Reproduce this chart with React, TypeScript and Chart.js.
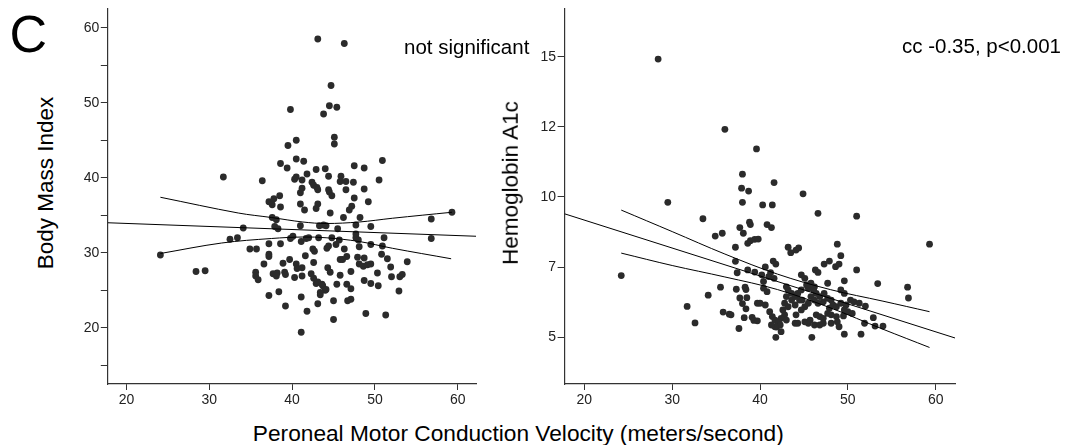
import React, { useEffect, useRef } from 'react';
import { Chart, registerables } from 'chart.js';

Chart.register(...registerables);

const FONT = "'Liberation Sans', Arial, Helvetica, sans-serif";
const INK = '#2b2b2b';
const AXIS = '#333';

// Shared x axis: peroneal motor conduction velocity (m/s)
const VELOCITY_RANGE = [17.75, 62.2];
const VELOCITY_TICKS = [20, 30, 40, 50, 60];

// Left panel: [velocity, body mass index]
const bmiPoints: [number, number][] = [
  [43.1, 58.5], [46.3, 57.9], [44.7, 52.3],
  [39.8, 49.1], [39.5, 44.3], [38.6, 41.9], [39.4, 41.3], [31.7, 40.1], [36.4, 39.6],
  [37.2, 36.8], [37.8, 37.2], [37.6, 36.4], [38.5, 37.6], [38.6, 36.1], [37.6, 34.7],
  [38.1, 34.4], [37.9, 33.5], [38.3, 33.2], [34.1, 33.3], [32.5, 31.8], [33.4, 32.0],
  [40.1, 32.2], [39.8, 31.9], [34.9, 30.5], [35.7, 30.5], [37.2, 31.2], [38.6, 31.2],
  [37.2, 29.8], [37.2, 29.5], [24.1, 29.7], [39.7, 29.1],
  [40.5, 45.0], [40.5, 42.5], [41.4, 42.2], [40.3, 39.8], [40.5, 40.1], [41.2, 39.7],
  [41.0, 38.0], [41.2, 38.6], [41.0, 36.5], [41.0, 33.6], [41.1, 31.5],
  [44.5, 49.6], [45.4, 49.4], [43.8, 48.5], [45.1, 45.4], [45.1, 44.5], [50.9, 42.3],
  [47.5, 41.6], [48.7, 41.3], [42.9, 41.1], [44.0, 41.2], [41.8, 40.5], [44.4, 40.2],
  [45.9, 40.2], [50.5, 39.7], [45.8, 39.5], [46.5, 39.5], [47.4, 39.4], [42.4, 39.4],
  [42.6, 39.0], [43.0, 38.7], [43.1, 38.4], [44.4, 38.4], [44.5, 38.1], [44.8, 37.6],
  [46.5, 38.4], [48.7, 38.5], [47.5, 37.3], [49.2, 36.8], [43.1, 36.5], [42.9, 35.9],
  [41.5, 35.7], [44.6, 35.3], [47.2, 36.2], [46.9, 35.7], [46.2, 34.7], [48.2, 34.7],
  [43.3, 33.6], [43.8, 33.7], [44.1, 33.6], [45.5, 33.2], [47.7, 33.7], [49.5, 33.5],
  [56.8, 34.5], [59.3, 35.4], [56.8, 31.9], [51.1, 32.0], [41.7, 31.9], [42.0, 32.0],
  [43.2, 32.0], [44.8, 32.0], [45.7, 31.7], [47.7, 32.5], [47.7, 32.0], [48.0, 31.7],
  [45.3, 31.1], [46.3, 30.5], [44.2, 30.6], [44.4, 30.9], [48.1, 30.8], [49.5, 31.1],
  [50.9, 30.9], [42.5, 30.5], [42.7, 30.2], [41.6, 29.6], [46.6, 29.5], [46.1, 29.1],
  [45.8, 29.1], [47.9, 29.4], [48.7, 29.3], [50.8, 29.8], [51.5, 29.2],
  [28.4, 27.5], [29.5, 27.6], [36.6, 28.5], [35.6, 27.4], [35.6, 26.9], [35.9, 26.4],
  [37.7, 27.2], [38.2, 27.3], [38.1, 26.9], [39.1, 27.4], [39.2, 27.1], [38.9, 28.6],
  [40.5, 28.5], [40.6, 27.9], [41.2, 28.0], [40.3, 26.7], [41.2, 26.9], [42.6, 28.7],
  [42.3, 27.2], [42.6, 26.6], [42.9, 25.9], [43.1, 26.1], [43.6, 25.8], [43.7, 25.6],
  [44.0, 25.0], [44.1, 25.1], [43.4, 24.4], [43.4, 24.7], [44.3, 28.0], [44.6, 27.4],
  [45.4, 25.8], [45.8, 27.0], [46.6, 25.8], [47.1, 25.2], [47.1, 27.5], [48.1, 28.5],
  [48.6, 28.2], [49.1, 28.4], [49.5, 28.5], [48.7, 26.3], [49.5, 25.9], [50.4, 25.6],
  [50.3, 27.3], [51.9, 28.1], [52.0, 26.8], [53.0, 26.8], [53.3, 27.1], [53.9, 28.8],
  [52.9, 24.9], [37.2, 24.3], [38.4, 24.8], [39.2, 22.9], [41.1, 24.1], [41.8, 22.2],
  [43.1, 23.2], [45.0, 23.6], [46.7, 23.6], [47.1, 23.8], [45.0, 21.1], [48.9, 21.9],
  [51.3, 21.7], [41.1, 19.4],
];

// Left panel regression line and its confidence band
const bmiFit: [number, number][] = [[17.75, 34.0], [62.2, 32.2]];
const bmiUpper: [number, number][] = [
  [24.1, 37.4], [33.5, 35.3], [37.5, 34.7], [41.3, 34.1], [44.1, 33.9], [48.1, 34.1], [52.1, 34.6], [59.3, 35.4],
];
const bmiLower: [number, number][] = [
  [24.1, 29.9], [31.5, 31.3], [37.5, 31.9], [41.3, 32.1], [44.1, 32.0], [48.1, 31.5], [52.1, 30.6], [59.2, 29.2],
];
const BMI_RANGE = [12.5, 62.5];
const BMI_TICKS = [15, 20, 25, 30, 35, 40, 45, 50, 55, 60];
const BMI_LABELLED = [20, 30, 40, 50, 60];

// Right panel: [velocity, hemoglobin A1c %]
const a1cPoints: [number, number][] = [
  [28.4, 14.9], [36.0, 11.93], [39.6, 11.37], [38.0, 10.65], [41.6, 10.41], [37.9, 10.25],
  [38.7, 10.17], [44.9, 10.09], [29.5, 9.77], [38.0, 9.77], [40.3, 9.66], [41.4, 9.66],
  [46.6, 9.3], [51.0, 9.18], [33.5, 9.07],
  [37.7, 8.69], [38.8, 8.92], [38.9, 8.82], [38.1, 8.45], [34.9, 8.33], [35.7, 8.45],
  [38.6, 8.02], [38.9, 8.13], [39.4, 8.19], [39.8, 8.2], [37.2, 7.85], [40.8, 8.82],
  [41.3, 8.69], [43.2, 7.85], [43.5, 7.62], [44.1, 7.73], [44.4, 7.82], [48.8, 7.98],
  [59.3, 7.98], [49.2, 7.49],
  [37.2, 7.25], [37.4, 6.84], [38.6, 6.92], [39.4, 6.86], [24.2, 6.76],
  [40.6, 7.01], [41.2, 6.84], [41.5, 7.26], [41.8, 7.13], [47.3, 7.13], [47.9, 7.26],
  [48.6, 7.02], [49.0, 7.13], [46.3, 6.92], [46.6, 6.85], [51.0, 6.92], [49.6, 6.61],
  [53.4, 6.53], [56.8, 6.43], [56.9, 6.12], [47.7, 6.54],
  [35.5, 6.43], [37.3, 6.37], [38.3, 6.43], [38.4, 6.36], [34.1, 6.2], [37.7, 6.12],
  [38.5, 6.13], [38.0, 5.96], [38.4, 5.81], [31.7, 5.88], [35.8, 5.72], [36.5, 5.66],
  [36.7, 5.64], [38.2, 5.56], [39.1, 5.57], [39.3, 5.48], [39.7, 5.47], [32.6, 5.41],
  [37.6, 5.25], [39.7, 5.97],
  [40.2, 6.78], [41.0, 6.73], [41.6, 6.68], [40.4, 6.59], [43.0, 6.44], [44.7, 6.78],
  [45.1, 6.68], [45.8, 6.54], [46.2, 6.44],
  [40.0, 5.97], [40.6, 5.92], [41.1, 5.73], [41.4, 5.59], [41.7, 5.49], [42.1, 5.4],
  [41.9, 5.29], [40.4, 6.4], [40.8, 6.3],
  [41.8, 5.0], [42.4, 5.16], [45.9, 5.0], [49.6, 5.09], [51.5, 5.09], [52.9, 5.56],
  [54.0, 5.32], [53.1, 5.32], [51.9, 5.4],
  [43.2, 6.35], [43.6, 6.25], [43.0, 6.16], [42.8, 5.97], [43.2, 5.87], [43.6, 6.06],
  [44.0, 6.16], [44.3, 6.25], [44.7, 6.35], [44.5, 6.06], [44.0, 5.92], [42.6, 5.78],
  [42.8, 5.64], [42.4, 5.54], [43.0, 5.49], [42.1, 5.44], [42.3, 5.35], [44.0, 5.4],
  [45.3, 6.49], [45.5, 6.4], [46.1, 6.35], [46.4, 6.25], [46.8, 6.16], [47.2, 6.01],
  [46.6, 5.97], [47.3, 6.25], [47.7, 6.11], [48.1, 6.06], [48.3, 5.92], [48.7, 5.87],
  [47.9, 5.83], [49.2, 5.97], [49.8, 5.92], [49.6, 5.78], [47.7, 5.68], [48.1, 5.64],
  [48.7, 5.59], [46.4, 5.64], [46.8, 5.59], [47.2, 5.54], [45.5, 5.4], [46.2, 5.35],
  [46.8, 5.35], [47.2, 5.4], [48.1, 5.4], [48.8, 5.44], [49.0, 5.3], [50.3, 6.06],
  [50.7, 6.01], [51.3, 5.97], [52.0, 5.89], [50.0, 5.73], [50.5, 5.68], [49.5, 5.61],
  [49.2, 6.35], [49.6, 6.25], [41.7, 5.3], [41.3, 5.35],
  [44.8, 6.06], [45.5, 5.97], [45.1, 5.87], [45.8, 6.16], [46.2, 6.06], [44.3, 5.4],
  [45.1, 5.44], [45.7, 5.49], [44.1, 5.64], [44.7, 5.78],
];

// Right panel regression line and its confidence band
const a1cFit: [number, number][] = [[17.75, 9.28], [62.2, 4.98]];
const a1cUpper: [number, number][] = [
  [24.2, 9.44], [30, 8.52], [36, 7.56], [42, 6.8], [48, 6.36], [54, 6.03], [59.3, 5.73],
];
const a1cLower: [number, number][] = [
  [24.2, 7.6], [30, 7.07], [36, 6.72], [42, 6.36], [48, 5.84], [54, 5.23], [59.3, 4.71],
];

// The A1c axis places these labels at equal steps
const A1C_LADDER = [5, 7, 10, 12, 15];
const A1C_AXIS_RANGE = [-0.666, 4.68];

function a1cToAxis(v: number): number {
  const t = A1C_LADDER;
  let i = 0;
  while (i < t.length - 2 && v > t[i + 1]) i++;
  return i + (v - t[i]) / (t[i + 1] - t[i]);
}

const toXY = (pts: [number, number][], f: (v: number) => number = (v) => v) =>
  pts.map(([x, y]) => ({ x, y: f(y) }));

function lineSet(pts: { x: number; y: number }[], tension: number) {
  return {
    data: pts,
    showLine: true,
    borderColor: '#000',
    borderWidth: 1,
    pointRadius: 0,
    fill: false,
    tension,
    order: 0,
  };
}

function pointSet(pts: { x: number; y: number }[]) {
  return {
    data: pts,
    showLine: false,
    backgroundColor: INK,
    borderWidth: 0,
    pointRadius: 3.4,
    order: 1,
  };
}

type YAxis = {
  min: number;
  max: number;
  ticks: number[];
  label: (v: number) => string;
  width: number;
};

function makeConfig(datasets: any[], y: YAxis) {
  const tickFont = { family: FONT, size: 14 };
  return {
    type: 'scatter' as const,
    data: { datasets },
    options: {
      animation: false,
      responsive: false,
      events: [],
      layout: { padding: { top: 9, left: 0, right: 0, bottom: 0 } },
      plugins: { legend: { display: false }, tooltip: { enabled: false } },
      scales: {
        x: {
          type: 'linear',
          min: VELOCITY_RANGE[0],
          max: VELOCITY_RANGE[1],
          afterBuildTicks: (s: any) => {
            s.ticks = VELOCITY_TICKS.map((value) => ({ value }));
          },
          ticks: {
            font: tickFont,
            color: '#222',
            padding: 2,
            maxRotation: 0,
            autoSkip: false,
            callback: (v: number) => String(v),
          },
          grid: { drawOnChartArea: false, drawTicks: true, tickLength: 6, color: AXIS, lineWidth: 1 },
          border: { display: true, color: AXIS, width: 1.2 },
          afterFit: (s: any) => {
            s.height = 36;
            s.paddingLeft = 0;
            s.paddingRight = 0;
          },
        },
        y: {
          type: 'linear',
          min: y.min,
          max: y.max,
          afterBuildTicks: (s: any) => {
            s.ticks = y.ticks.map((value) => ({ value }));
          },
          ticks: {
            font: tickFont,
            color: '#222',
            padding: 1.5,
            autoSkip: false,
            callback: (v: number) => y.label(v),
          },
          grid: { drawOnChartArea: false, drawTicks: true, tickLength: 7, color: AXIS, lineWidth: 1 },
          border: { display: true, color: AXIS, width: 1.2 },
          afterFit: (s: any) => {
            s.width = y.width;
            s.paddingTop = 0;
            s.paddingBottom = 0;
          },
        },
      },
    },
  };
}

function useChart(ref: React.RefObject<HTMLCanvasElement>, build: () => any) {
  useEffect(() => {
    if (!ref.current) return;
    const chart = new Chart(ref.current, build());
    return () => chart.destroy();
  }, []);
}

function Text({ children, style }: { children: React.ReactNode; style: React.CSSProperties }) {
  return (
    <div
      style={{
        position: 'absolute',
        whiteSpace: 'nowrap',
        lineHeight: 1,
        fontFamily: FONT,
        color: '#000',
        ...style,
      }}
    >
      {children}
    </div>
  );
}

export default function App() {
  const leftRef = useRef<HTMLCanvasElement>(null);
  const rightRef = useRef<HTMLCanvasElement>(null);

  useChart(leftRef, () =>
    makeConfig(
      [
        lineSet(toXY(bmiFit), 0),
        lineSet(toXY(bmiUpper), 0.35),
        lineSet(toXY(bmiLower), 0.35),
        pointSet(toXY(bmiPoints)),
      ],
      {
        min: BMI_RANGE[0],
        max: BMI_RANGE[1],
        ticks: BMI_TICKS,
        label: (v) => (BMI_LABELLED.includes(v) ? String(v) : ''),
        width: 47.8,
      },
    ),
  );

  useChart(rightRef, () =>
    makeConfig(
      [
        lineSet(toXY(a1cFit, a1cToAxis), 0),
        lineSet(toXY(a1cUpper, a1cToAxis), 0.35),
        lineSet(toXY(a1cLower, a1cToAxis), 0.35),
        pointSet(toXY(a1cPoints, a1cToAxis)),
      ],
      {
        min: A1C_AXIS_RANGE[0],
        max: A1C_AXIS_RANGE[1],
        ticks: A1C_LADDER.map(a1cToAxis),
        label: (v) => {
          const i = Math.round(v);
          return Math.abs(v - i) < 1e-6 && A1C_LADDER[i] !== undefined ? String(A1C_LADDER[i]) : '';
        },
        width: 44.6,
      },
    ),
  );

  return (
    <div
      style={{
        position: 'absolute',
        left: 0,
        top: 0,
        width: 1066,
        height: 445,
        background: '#fff',
        overflow: 'hidden',
      }}
    >
      <canvas
        ref={leftRef}
        width={420}
        height={420}
        style={{ position: 'absolute', left: 60, top: 0, width: 420, height: 420 }}
      />
      <canvas
        ref={rightRef}
        width={439}
        height={420}
        style={{ position: 'absolute', left: 520, top: 0, width: 439, height: 420 }}
      />
      <Text style={{ left: 9.5, top: 7.5, fontSize: 52 }}>C</Text>
      <Text style={{ left: 404, top: 36.6, fontSize: 20.5 }}>not significant</Text>
      <Text style={{ left: 902, top: 36.1, fontSize: 20.5 }}>cc -0.35, p&lt;0.001</Text>
      <Text
        style={{ left: 46, top: 182.5, fontSize: 22.5, transform: 'translate(-50%, -50%) rotate(-90deg)' }}
      >
        Body Mass Index
      </Text>
      <Text
        style={{ left: 510.7, top: 183.4, fontSize: 22.5, transform: 'translate(-50%, -50%) rotate(-90deg)' }}
      >
        Hemoglobin A1c
      </Text>
      <Text style={{ left: 518.3, top: 422, fontSize: 22.7, transform: 'translateX(-50%)' }}>
        Peroneal Motor Conduction Velocity (meters/second)
      </Text>
    </div>
  );
}
